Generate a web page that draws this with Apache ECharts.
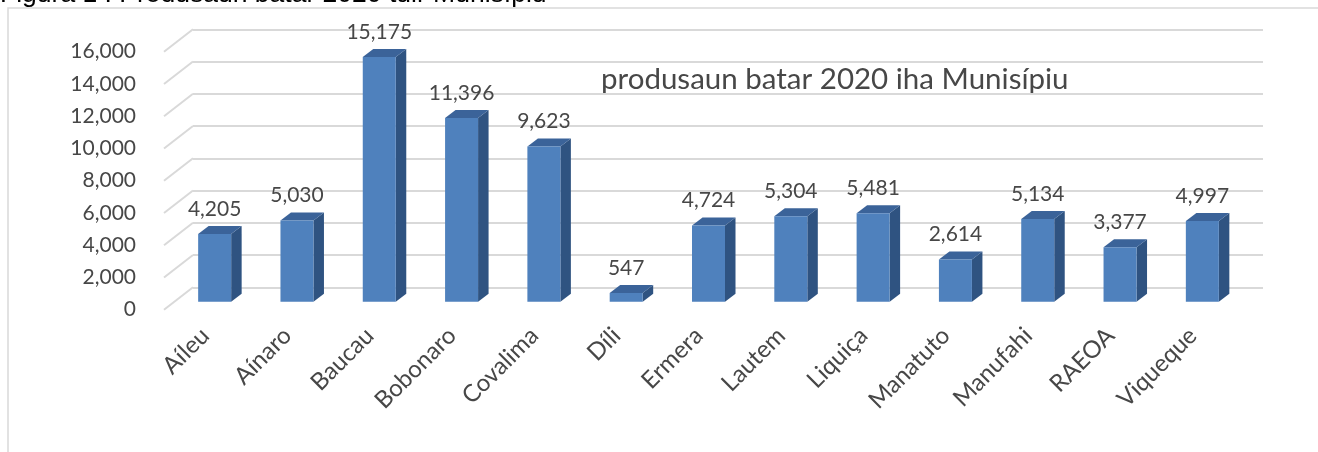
<!DOCTYPE html>
<html>
<head>
<meta charset="utf-8">
<title>produsaun batar 2020</title>
<style>
  body { margin: 0; background: #fff; }
  #chart { width: 1318px; height: 452px; }
</style>
</head>
<body>
<div id="chart"></div>
<script src="https://cdn.jsdelivr.net/npm/echarts@6/dist/echarts.min.js"></script>
<script>
var municipios = ['Aíleu', 'Aínaro', 'Baucau', 'Bobonaro', 'Covalima', 'Díli', 'Ermera', 'Lautem', 'Liquiça', 'Manatuto', 'Manufahi', 'RAEOA', 'Viqueque'];
var produsaun = [4205, 5030, 15175, 11396, 9623, 547, 4724, 5304, 5481, 2614, 5134, 3377, 4997];
var yTicks = [0, 2000, 4000, 6000, 8000, 10000, 12000, 14000, 16000];

// 3D look: back wall is grid 0, the front edge sits down-left of it
var WALL_DEPTH = [29, -22.4];
var BAR_SHIFT = [-19.5, 14.4];
var BAR_DEPTH = [10.5, -8];
var BAR_W = 33;
var FONT = 'Lato';
var TEXT = '#474747';

function fmt(v) {
    return String(v).replace(/\B(?=(\d{3})+(?!\d))/g, ',');
}

function renderWallLine(params, api) {
    var p = api.coord([0, api.value(1)]);
    var x = params.coordSys.x;
    return {
        type: 'line',
        shape: { x1: x - WALL_DEPTH[0], y1: p[1] - WALL_DEPTH[1], x2: x, y2: p[1] },
        style: { stroke: '#d9d9d9', lineWidth: 2 }
    };
}

function renderBar(params, api) {
    var top = api.coord([api.value(0), api.value(1)]);
    var base = api.coord([api.value(0), 0]);
    var cx = top[0] + BAR_SHIFT[0];
    var x0 = cx - BAR_W / 2, x1 = cx + BAR_W / 2;
    var y0 = top[1] + BAR_SHIFT[1], y1 = base[1] + BAR_SHIFT[1];
    var dx = BAR_DEPTH[0], dy = BAR_DEPTH[1];
    return {
        type: 'group',
        children: [
            { type: 'polygon', shape: { points: [[x1, y0], [x1 + dx, y0 + dy], [x1 + dx, y1 + dy], [x1, y1]] },
              style: { fill: '#2f5381' } },
            { type: 'polygon', shape: { points: [[x0, y0], [x0 + dx, y0 + dy], [x1 + dx, y0 + dy], [x1, y0]] },
              style: { fill: '#3b6399' } },
            { type: 'rect', shape: { x: x0, y: y0, width: BAR_W, height: y1 - y0 },
              style: { fill: '#4f81bd' } },
            { type: 'text', style: { text: fmt(api.value(1)), x: cx, y: y0 - 25, align: 'center',
              verticalAlign: 'middle', fontSize: 21, fontFamily: FONT, fill: TEXT } }
        ]
    };
}

var chart = echarts.init(document.getElementById('chart'));
chart.setOption({
    animation: false,
    backgroundColor: '#fff',
    graphic: [
        { type: 'polyline', shape: { points: [[8, 452], [8, 8], [1318, 8]] },
          style: { stroke: '#d9d9d9', lineWidth: 1.5, fill: null } },
        { type: 'text', left: 0, top: -19,
          style: { text: 'Figura 1 : Produsaun batar 2020 tuir Munisípiu', fontSize: 26.5,
                   fontFamily: 'Liberation Sans', fill: '#000' } },
        { type: 'text', left: 601, top: 64,
          style: { text: 'produsaun batar 2020 iha Munisípiu', fontSize: 29.5, fontFamily: FONT, fill: TEXT } }
    ],
    grid: [
        { left: 193, right: 55, top: 29.3, bottom: 164.7 },
        { left: 164, right: 84, top: 51.7, bottom: 142.3 }
    ],
    xAxis: [
        { type: 'category', gridIndex: 0, data: municipios, show: false },
        { type: 'category', gridIndex: 1, data: municipios,
          axisLine: { show: false }, axisTick: { show: false },
          axisLabel: { interval: 0, rotate: 45, margin: 22, fontSize: 24, fontFamily: FONT, color: TEXT } }
    ],
    yAxis: [
        { type: 'value', gridIndex: 0, min: 0, max: 16000, interval: 2000,
          axisLabel: { show: false }, axisLine: { show: false }, axisTick: { show: false },
          splitLine: { lineStyle: { color: '#d9d9d9', width: 2 } } },
        { type: 'value', gridIndex: 1, min: 0, max: 16000, interval: 2000,
          axisLine: { show: false }, axisTick: { show: false }, splitLine: { show: false },
          axisLabel: { margin: 28, fontSize: 21, fontFamily: FONT, color: TEXT, formatter: fmt } }
    ],
    series: [
        { type: 'custom', xAxisIndex: 0, yAxisIndex: 0, z: 1, silent: true,
          renderItem: renderWallLine,
          data: yTicks.map(function (v) { return [0, v]; }) },
        { type: 'custom', xAxisIndex: 0, yAxisIndex: 0, z: 5,
          renderItem: renderBar,
          encode: { x: 0, y: 1 },
          data: produsaun.map(function (v, i) { return [i, v]; }) }
    ]
});
</script>
</body>
</html>
